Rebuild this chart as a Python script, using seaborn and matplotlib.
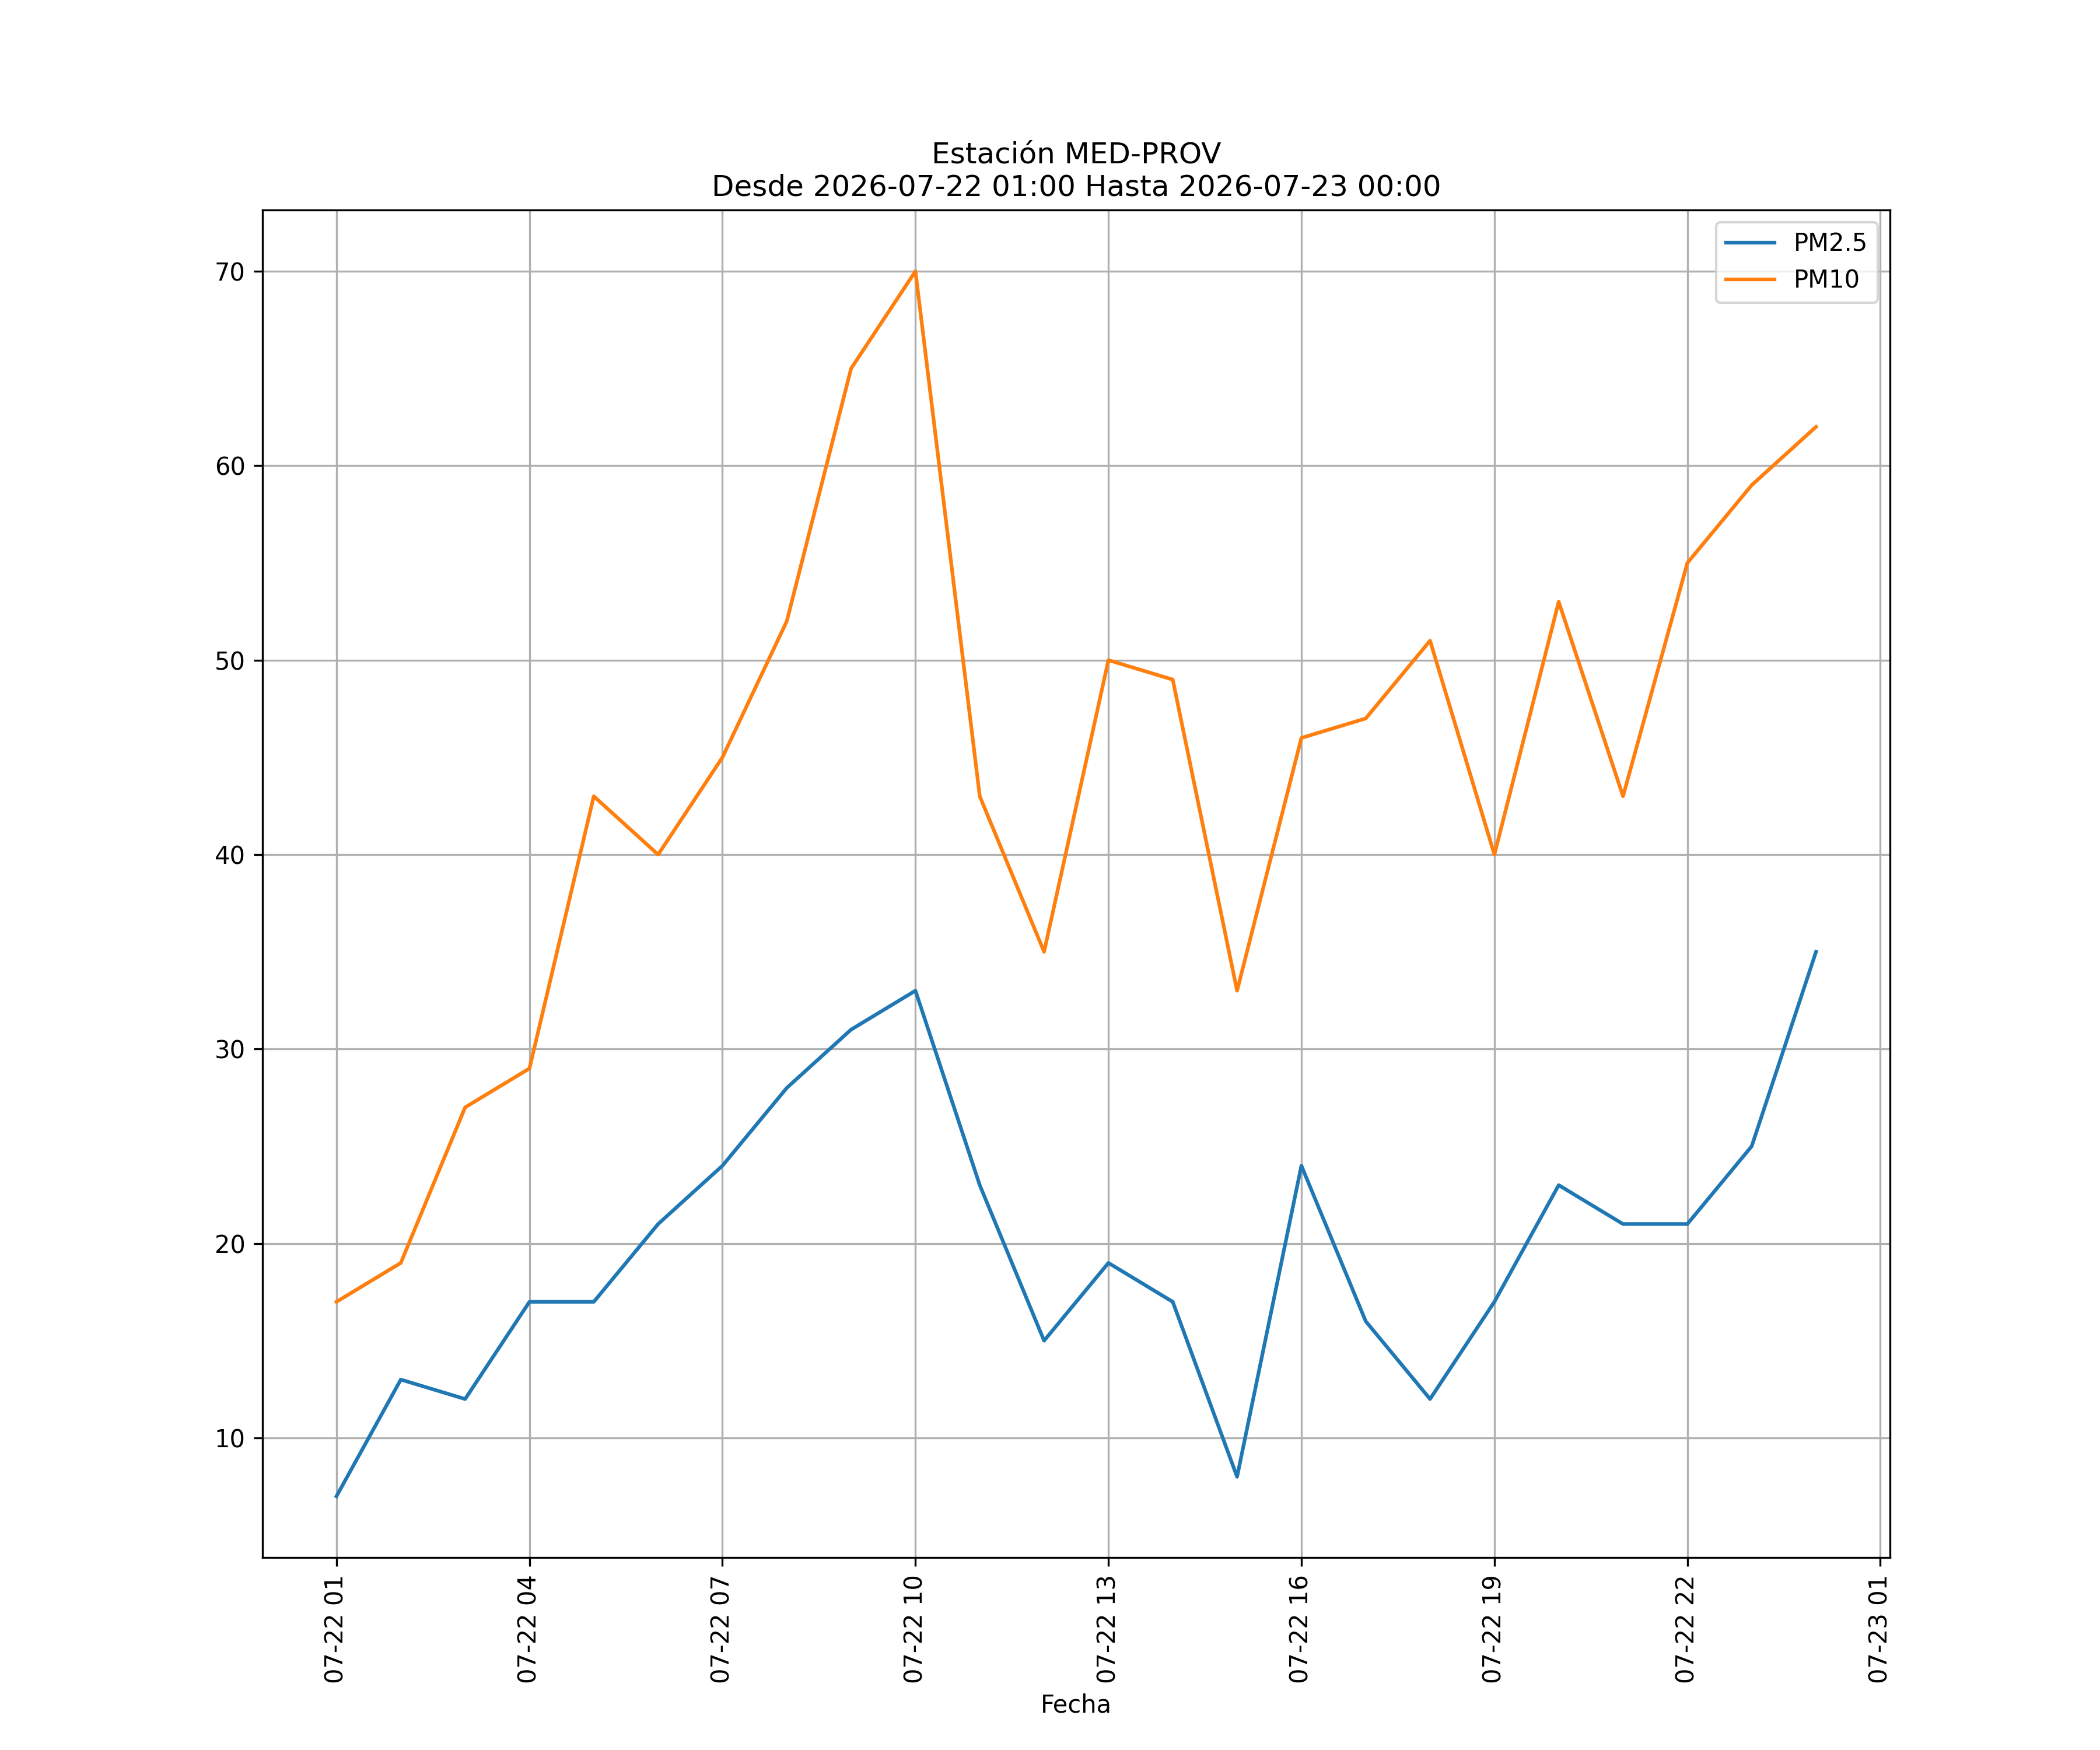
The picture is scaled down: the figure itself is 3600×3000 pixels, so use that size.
import pandas as pd
import matplotlib
matplotlib.use('Agg')
import matplotlib.pyplot as plt
import matplotlib.dates as mdates
import seaborn as sns

# Hourly data, station MED-PROV
fechas = pd.date_range('2026-07-22 01:00', '2026-07-23 00:00', freq='h')
pm25 = [7, 13, 12, 17, 17, 21, 24, 28, 31, 33, 23, 15, 19, 17, 8, 24, 16, 12, 17, 23, 21, 21, 25, 35]
pm10 = [17, 19, 27, 29, 43, 40, 45, 52, 65, 70, 43, 35, 50, 49, 33, 46, 47, 51, 40, 53, 43, 55, 59, 62]

df = pd.DataFrame({'Fecha': fechas, 'PM2.5': pm25, 'PM10': pm10})

fig, ax = plt.subplots(figsize=(12, 10))
sns.lineplot(x='Fecha', y='PM2.5', data=df, label='PM2.5', color='tab:blue', ax=ax)
sns.lineplot(x='Fecha', y='PM10', data=df, label='PM10', color='tab:orange', ax=ax)

ax.set_title('Estación MED-PROV\nDesde 2026-07-22 01:00 Hasta 2026-07-23 00:00')
ax.set_xlabel('Fecha')
ax.set_ylabel('')
ax.xaxis.set_major_locator(mdates.HourLocator(byhour=range(1, 24, 3)))
ax.xaxis.set_major_formatter(mdates.DateFormatter('%m-%d %H'))
plt.setp(ax.get_xticklabels(), rotation=90)
ax.grid(True)
ax.legend(loc='upper right')

plt.savefig('out.png', dpi=300)
